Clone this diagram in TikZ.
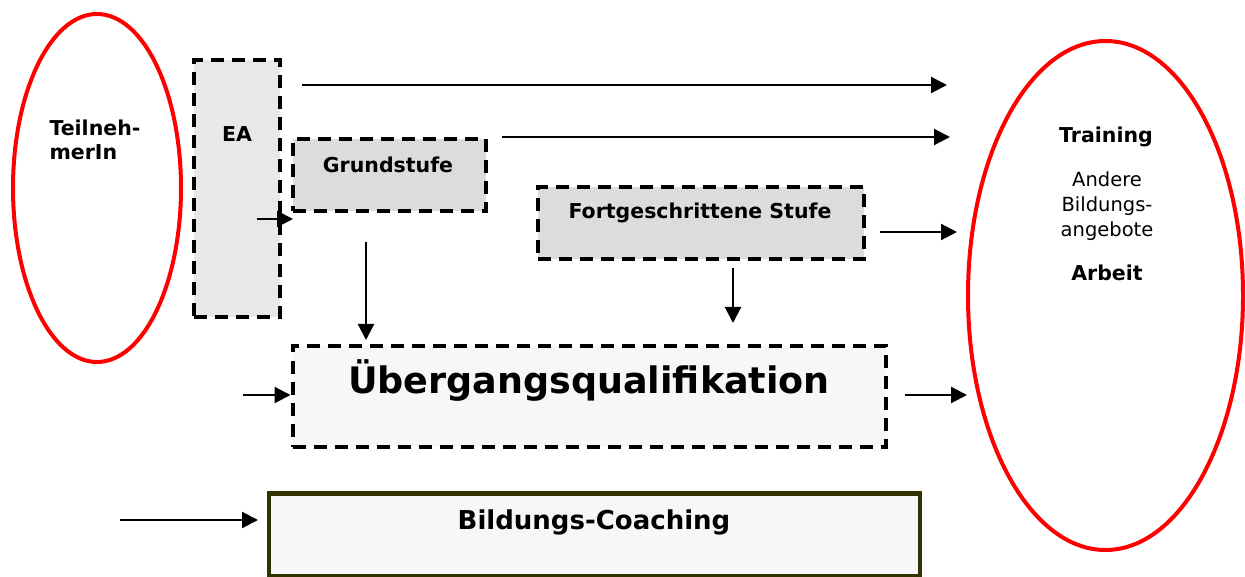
\documentclass[tikz,border=0pt]{standalone}
\usepackage{fontspec}
\setmainfont{DejaVu Sans}
\usetikzlibrary{shapes.geometric,arrows.meta}
\definecolor{eagray}{HTML}{E8E8E8}
\definecolor{stufegray}{HTML}{DCDCDC}
\definecolor{palegray}{HTML}{F7F7F7}
\definecolor{olivedark}{HTML}{333300}
\tikzset{
  dashbox/.style={draw, dash pattern=on 13pt off 8pt, line width=4pt, inner sep=0pt},
  redoval/.style={ellipse, draw=red, line width=4pt, inner sep=0pt},
  arr/.style={line width=2.2pt, -{Triangle[length=16pt,width=16pt]}},
  boldtext/.style={font=\fontsize{20.5}{24}\selectfont\bfseries},
  plaintext/.style={font=\fontsize{19.5}{25}\selectfont}
}
\begin{document}
\begin{tikzpicture}[x=1pt,y=-1pt]
			\useasboundingbox (0,0) rectangle (1245,577);
			\clip (0,0) rectangle (1245,577);
			\node [redoval, minimum width=168, minimum height=348] (tn) at (97,188) {};
			\node [redoval, minimum width=275, minimum height=509] (ziel) at (1105.5,295.5) {};
			\node [dashbox, fill=eagray, minimum width=86, minimum height=257] (ea) at (236.5,189) {};
			\node [dashbox, fill=stufegray, minimum width=193, minimum height=72] (gs) at (389,175.5) {};
			\node [dashbox, fill=stufegray, minimum width=326, minimum height=72] (fs) at (700.5,223.5) {};
			\node [dashbox, fill=palegray, minimum width=593, minimum height=101] (uq) at (589,396) {};
			\node [draw=olivedark, line width=4.5pt, fill=palegray, inner sep=0pt, minimum width=651, minimum height=83] (bc) at (594.5,535) {};
			\node [boldtext, align=left, anchor=west] (tnlabel) at (46,140) {Teilneh-\\merIn};
			\node [boldtext] (ealabel) at (237,134) {EA};
			\node [boldtext] (gslabel) at (388,165) {Grundstufe};
			\node [boldtext] (fslabel) at (700,213) {Fortgeschrittene Stufe};
			\node [font=\fontsize{36.5}{40}\selectfont\bfseries] (uqlabel) at (589,381) {Übergangsqualifikation};
			\node [font=\fontsize{26}{30}\selectfont\bfseries] (bclabel) at (594,522) {Bildungs-Coaching};
			\node [boldtext] (training) at (1106,137) {Training};
			\node [plaintext, align=center] (andere) at (1107,206) {Andere\\Bildungs-\\angebote};
			\node [boldtext] (arbeit) at (1107,273) {Arbeit};
			\coordinate (a1s) at (302,85);
			\coordinate (a1e) at (947,85);
			\coordinate (a2s) at (502,137);
			\coordinate (a2e) at (950,137);
			\coordinate (a3s) at (880,232);
			\coordinate (a3e) at (957,232);
			\coordinate (a4s) at (905,395);
			\coordinate (a4e) at (967,395);
			\coordinate (a5s) at (257,219);
			\coordinate (a5e) at (293,219);
			\coordinate (a6s) at (243,395);
			\coordinate (a7s) at (366,242);
			\coordinate (a7e) at (366,340);
			\coordinate (a8s) at (733,268);
			\coordinate (a8e) at (733,323);
			\coordinate (a9s) at (120,520);
			\coordinate (a9e) at (258,520);
			\draw [arr] (a1s) -- (a1e);
			\draw [arr] (a2s) -- (a2e);
			\draw [arr] (a3s) -- (a3e);
			\draw [arr] (a4s) -- (a4e);
			\draw [arr] (a5s) -- (a5e);
			\draw [arr] (a6s) -- (a6s -| uq.west);
			\draw [arr] (a7s) -- (a7e);
			\draw [arr] (a8s) -- (a8e);
			\draw [arr] (a9s) -- (a9e);
		\end{tikzpicture}
\end{document}
